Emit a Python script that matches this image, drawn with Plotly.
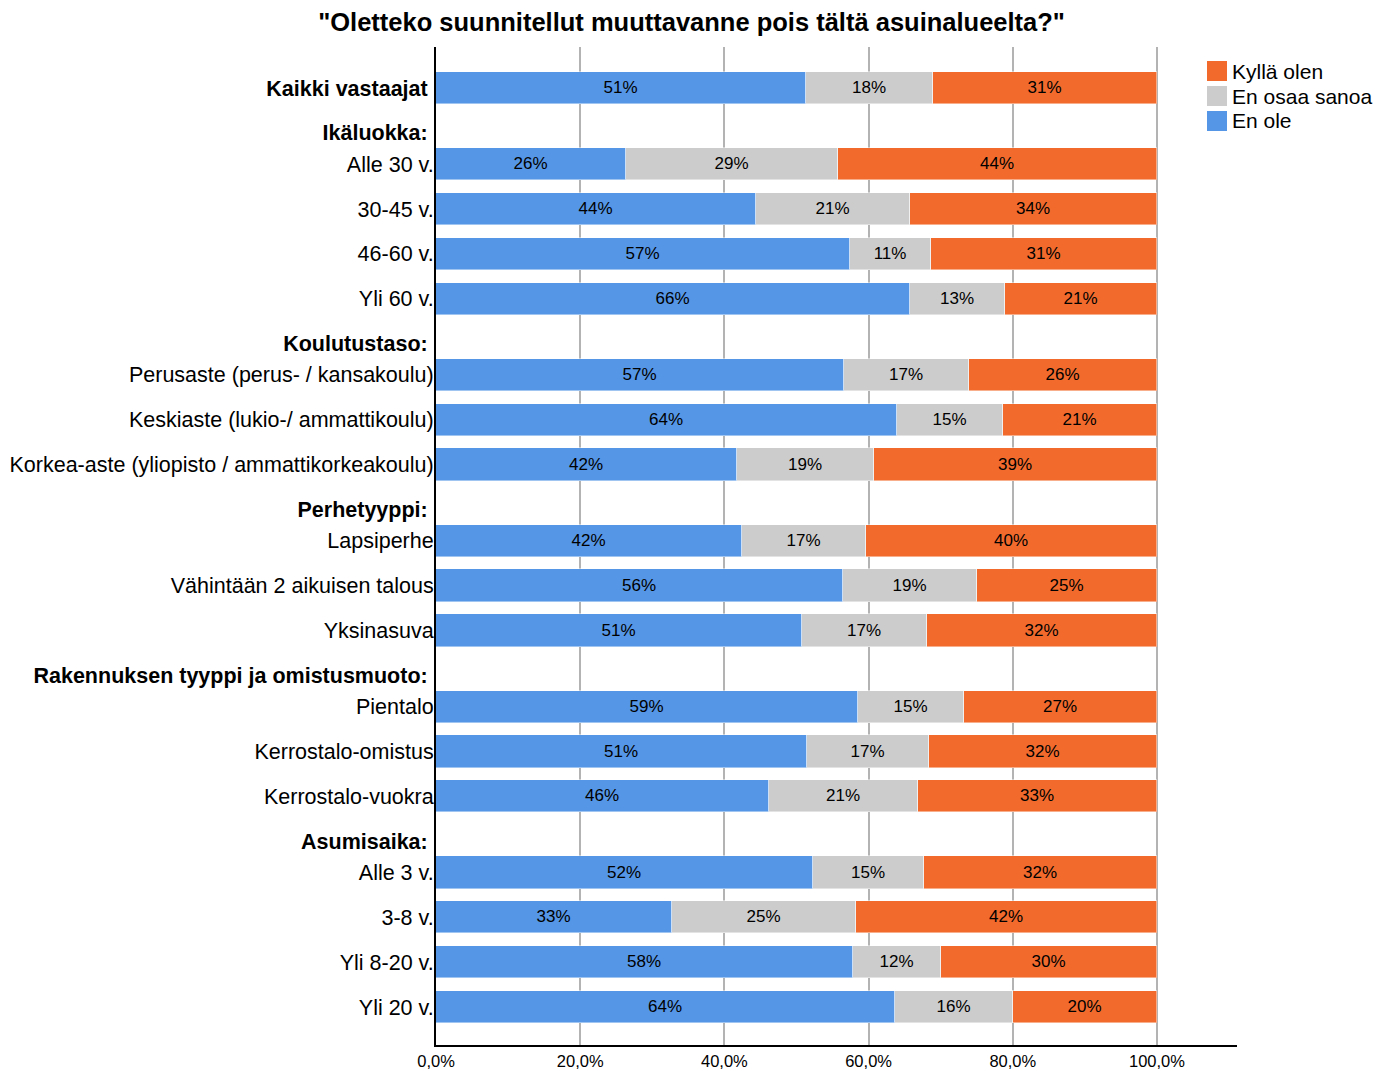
import plotly.graph_objects as go

# Survey answers (percent of respondents) per respondent group
categories = [
    "Kaikki vastaajat",
    "Alle 30 v.", "30-45 v.", "46-60 v.", "Yli 60 v.",
    "Perusaste (perus- / kansakoulu)",
    "Keskiaste (lukio-/ ammattikoulu)",
    "Korkea-aste (yliopisto / ammattikorkeakoulu)",
    "Lapsiperhe", "Vähintään 2 aikuisen talous", "Yksinasuva",
    "Pientalo", "Kerrostalo-omistus", "Kerrostalo-vuokra",
    "Alle 3 v.", "3-8 v.", "Yli 8-20 v.", "Yli 20 v.",
]
group_headers = [
    "Ikäluokka:",
    "Koulutustaso:",
    "Perhetyyppi:",
    "Rakennuksen tyyppi ja omistusmuoto:",
    "Asumisaika:",
]
# index into group_headers for each category (None = no header)
category_group = [None, 0, 0, 0, 0, 1, 1, 1, 2, 2, 2, 3, 3, 3, 4, 4, 4, 4]

en_ole = [51.3, 26.4, 44.4, 57.4, 65.8, 56.6, 64.0, 41.7, 42.4, 56.4, 50.7,
          58.6, 51.4, 46.2, 52.3, 32.8, 57.9, 63.6]
en_osaa_sanoa = [17.7, 29.4, 21.4, 11.2, 13.1, 17.3, 14.7, 19.1, 17.2, 18.7, 17.4,
                 14.6, 17.0, 20.6, 15.4, 25.4, 12.2, 16.4]
kylla_olen = [31.0, 44.2, 34.2, 31.4, 21.1, 26.1, 21.3, 39.2, 40.4, 24.9, 31.9,
              26.8, 31.6, 33.2, 32.3, 41.8, 29.9, 20.0]

series = [
    ("En ole", en_ole, "#5596E6"),
    ("En osaa sanoa", en_osaa_sanoa, "#CCCCCC"),
    ("Kyllä olen", kylla_olen, "#F26B2D"),
]

x_ticks = [0, 20, 40, 60, 80, 100]
x_tick_labels = ["0,0%", "20,0%", "40,0%", "60,0%", "80,0%", "100,0%"]

FONT = "Liberation Sans, Arial, sans-serif"

# Row layout: bars one unit apart, a header row inserted before each group
bar_pos, header_pos = [], []
pos = None
prev_group = None
for g in category_group:
    if pos is None:
        pos = 0.0
    elif g is not None and g != prev_group:
        header_pos.append(pos + 1.0)
        pos = pos + 1.7
    else:
        pos = pos + 1.0
    bar_pos.append(pos)
    prev_group = g

fig = go.Figure()
for name, vals, color in series:
    fig.add_trace(go.Bar(
        y=bar_pos, x=vals, name=name, orientation="h",
        width=0.72,
        marker=dict(color=color, line=dict(color="rgba(255,255,255,0.45)", width=1)),
        texttemplate="%{x:.0f}%", textposition="inside",
        insidetextanchor="middle", textangle=0,
        textfont=dict(family=FONT, size=17, color="#000000"),
        hoverinfo="skip", showlegend=False,
    ))

tick_vals = list(bar_pos) + header_pos
tick_text = ["<b>" + categories[0] + "</b>\u00a0"] + categories[1:] + \
            ["<b>" + h + "</b>\u00a0" for h in group_headers]

# Plot area in pixels
W, H = 1392, 1071
L, R, T, B = 436, 155, 47, 26
pw, ph = W - L - R, H - T - B


def px_x(px):
    return (px - L) / pw


def px_y(py):
    return (H - B - py) / ph


# Legend drawn as swatches + labels, top entry first
shapes, annotations = [], []
for i, (name, vals, color) in enumerate(reversed(series)):
    cy = 71 + 25 * i
    shapes.append(dict(type="rect", xref="paper", yref="paper",
                       x0=px_x(1207), x1=px_x(1227),
                       y0=px_y(cy + 10), y1=px_y(cy - 10),
                       fillcolor=color, line=dict(width=0)))
    annotations.append(dict(xref="paper", yref="paper", x=px_x(1230), y=px_y(cy),
                            xanchor="left", yanchor="middle", showarrow=False,
                            text=name, font=dict(family=FONT, size=21, color="#000000")))

fig.update_layout(
    width=W, height=H,
    margin=dict(l=L, r=R, t=T, b=B),
    barmode="stack",
    bargap=0,
    paper_bgcolor="white", plot_bgcolor="white",
    title=dict(text="<b>\"Oletteko suunnitellut muuttavanne pois tältä asuinalueelta?\"</b>",
               x=0.4968, xanchor="center", y=1 - 22 / H, yanchor="middle",
               font=dict(family=FONT, size=25.5, color="#000000")),
    xaxis=dict(range=[0, 111.1], tickvals=x_ticks, ticktext=x_tick_labels,
               showgrid=True, gridcolor="#B3B3B3", gridwidth=2, zeroline=False,
               showline=True, linecolor="#000000", linewidth=1.5, ticks="",
               automargin=False, ticklabelstandoff=0,
               tickfont=dict(family=FONT, size=16.5, color="#000000")),
    yaxis=dict(range=[bar_pos[-1] + (1045 - 1007) / 44.83, -(88 - 47) / 44.83],
               tickvals=tick_vals, ticktext=tick_text,
               showgrid=False, zeroline=False, showline=True, linecolor="#000000",
               linewidth=2, ticks="", ticklabelstandoff=-4, automargin=False,
               tickfont=dict(family=FONT, size=21.5, color="#000000")),
    shapes=shapes,
    annotations=annotations,
)

fig.write_html("out.html")
